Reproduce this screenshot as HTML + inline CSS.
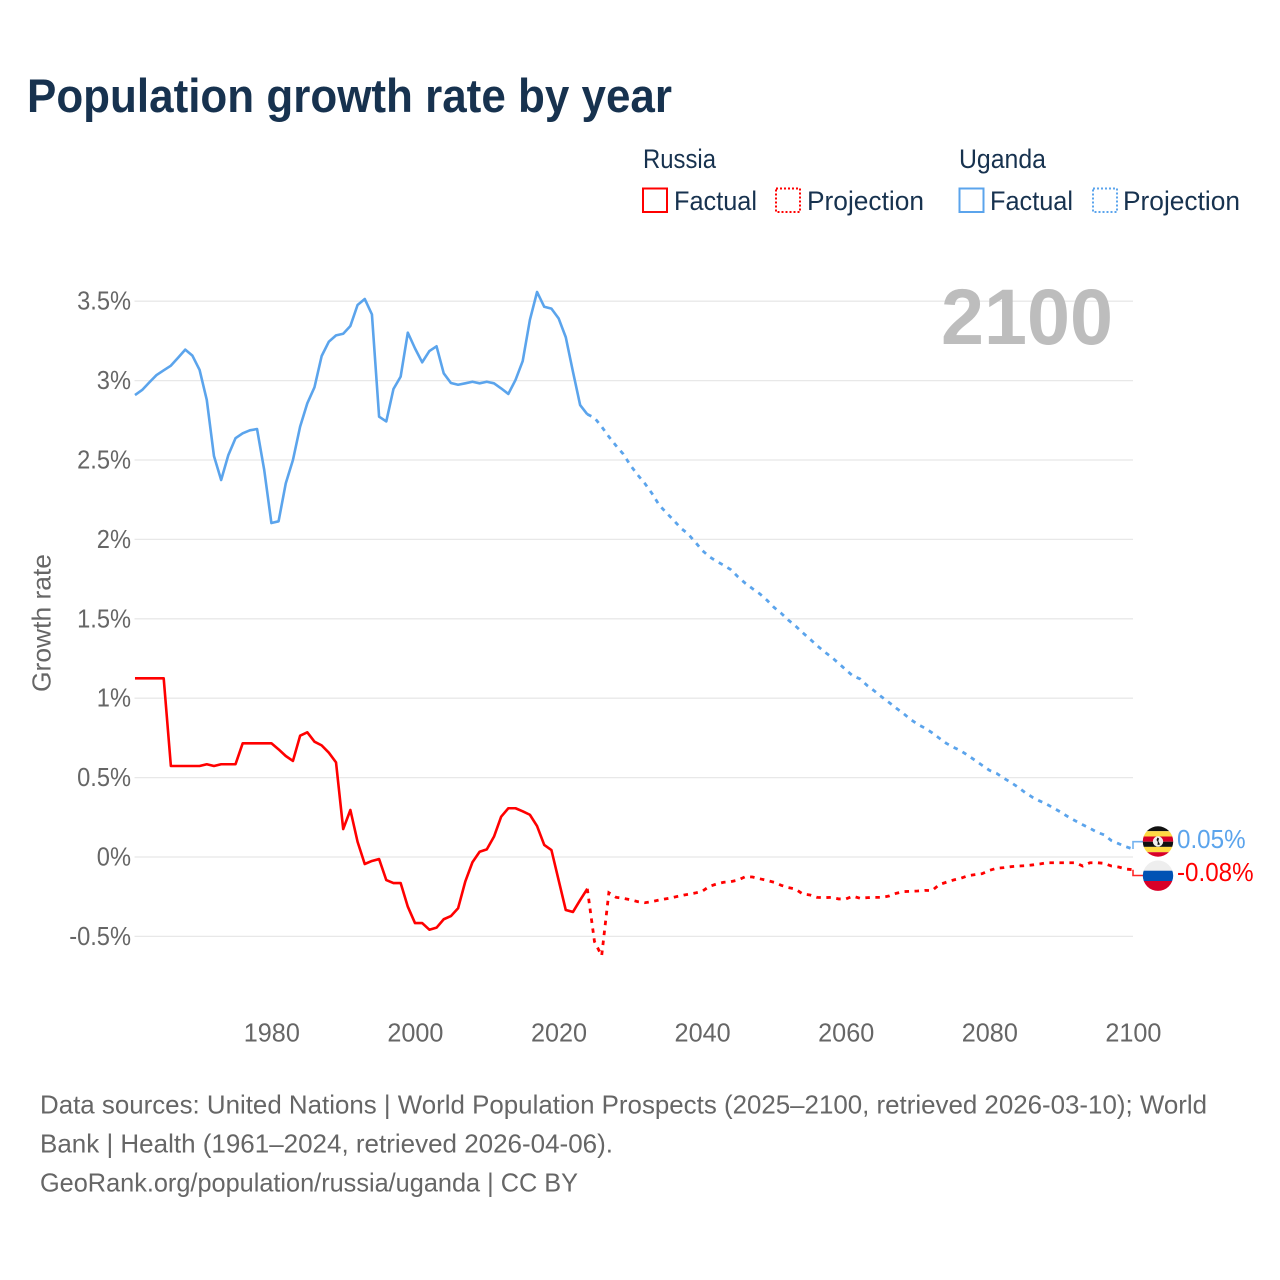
<!DOCTYPE html>
<html lang="en">
<head>
<meta charset="utf-8">
<title>Population growth rate by year</title>
<style>
html,body{margin:0;padding:0;background:#fff;}
svg{display:block;font-family:"Liberation Sans",sans-serif;}
</style>
</head>
<body>
<svg id="chart" width="1280" height="1280" viewBox="0 0 1280 1280" xmlns="http://www.w3.org/2000/svg">
  <rect x="0" y="0" width="1280" height="1280" fill="#fff"/>
  <text x="27" y="112" font-size="47" font-weight="700" fill="#17324f" textLength="645" lengthAdjust="spacingAndGlyphs">Population growth rate by year</text>

  <g fill="#17324f" font-size="26.5">
    <text x="643" y="168" textLength="73" lengthAdjust="spacingAndGlyphs">Russia</text>
    <text x="959" y="168" textLength="87" lengthAdjust="spacingAndGlyphs">Uganda</text>
    <rect x="643" y="188.5" width="24" height="23.5" fill="none" stroke="#ff0000" stroke-width="2"/>
    <text x="674" y="210" textLength="83" lengthAdjust="spacingAndGlyphs">Factual</text>
    <rect x="776" y="188.5" width="24" height="23.5" fill="none" stroke="#ff0000" stroke-width="2" stroke-dasharray="2 2"/>
    <text x="807" y="210" textLength="117" lengthAdjust="spacingAndGlyphs">Projection</text>
    <rect x="959.5" y="188.5" width="24" height="23.5" fill="none" stroke="#5ba4ec" stroke-width="2"/>
    <text x="990" y="210" textLength="83" lengthAdjust="spacingAndGlyphs">Factual</text>
    <rect x="1093" y="188.5" width="24" height="23.5" fill="none" stroke="#5ba4ec" stroke-width="2" stroke-dasharray="2 2"/>
    <text x="1123" y="210" textLength="117" lengthAdjust="spacingAndGlyphs">Projection</text>
  </g>

  <text transform="translate(50.5 692) rotate(-90)" x="0" y="0" font-size="26" fill="#666" textLength="138" lengthAdjust="spacingAndGlyphs">Growth rate</text>

  <g id="grid"></g>
  <g id="yticks"></g>
  <g id="xticks"></g>

  <text x="1113" y="344" text-anchor="end" font-size="79" font-weight="700" fill="#bdbdbd" textLength="172" lengthAdjust="spacingAndGlyphs">2100</text>

  <g id="series"></g>

  <g>
    <clipPath id="clip-ug"><circle cx="1158" cy="841.5" r="15.2"/></clipPath>
    <g clip-path="url(#clip-ug)">
      <rect x="1142" y="826" width="32" height="5.2" fill="#111"/>
      <rect x="1142" y="831.2" width="32" height="5.3" fill="#ffda44"/>
      <rect x="1142" y="836.5" width="32" height="5.2" fill="#d80027"/>
      <rect x="1142" y="841.7" width="32" height="5.2" fill="#111"/>
      <rect x="1142" y="846.9" width="32" height="5.3" fill="#ffda44"/>
      <rect x="1142" y="852.2" width="32" height="5.2" fill="#d80027"/>
    </g>
    <circle cx="1158" cy="841.5" r="5.2" fill="#f0f0f0"/>
    <path d="M1157.5 837.5 L1159 838.5 L1158.3 841 L1160 844.5 L1157.5 845 L1157.8 842 L1156.5 840 Z" fill="#111"/>
  </g>
  <g>
    <clipPath id="clip-ru"><circle cx="1158" cy="875.7" r="15.2"/></clipPath>
    <g clip-path="url(#clip-ru)">
      <rect x="1142" y="860" width="32" height="10.7" fill="#eeeeee"/>
      <rect x="1142" y="870.7" width="32" height="10.3" fill="#0052b4"/>
      <rect x="1142" y="881" width="32" height="10" fill="#d80027"/>
    </g>
  </g>

  <g font-size="26" fill="#666">
    <text x="40" y="1113.5" textLength="1167" lengthAdjust="spacingAndGlyphs">Data sources: United Nations | World Population Prospects (2025–2100, retrieved 2026-03-10); World</text>
    <text x="40" y="1152.5" textLength="573" lengthAdjust="spacingAndGlyphs">Bank | Health (1961–2024, retrieved 2026-04-06).</text>
    <text x="40" y="1191.5" textLength="538" lengthAdjust="spacingAndGlyphs">GeoRank.org/population/russia/uganda | CC BY</text>
  </g>
</svg>
<script>
const factualYears = [1961,1962,1963,1964,1965,1966,1967,1968,1969,1970,1971,1972,1973,1974,1975,1976,1977,1978,1979,1980,1981,1982,1983,1984,1985,1986,1987,1988,1989,1990,1991,1992,1993,1994,1995,1996,1997,1998,1999,2000,2001,2002,2003,2004,2005,2006,2007,2008,2009,2010,2011,2012,2013,2014,2015,2016,2017,2018,2019,2020,2021,2022,2023,2024];
const projectionYears = [2025,2026,2027,2028,2029,2030,2031,2032,2033,2034,2035,2036,2037,2038,2039,2040,2041,2042,2043,2044,2045,2046,2047,2048,2049,2050,2051,2052,2053,2054,2055,2056,2057,2058,2059,2060,2061,2062,2063,2064,2065,2066,2067,2068,2069,2070,2071,2072,2073,2074,2075,2076,2077,2078,2079,2080,2081,2082,2083,2084,2085,2086,2087,2088,2089,2090,2091,2092,2093,2094,2095,2096,2097,2098,2099,2100];
const russiaFactual = [1.125,1.125,1.125,1.125,1.125,0.573,0.573,0.573,0.573,0.573,0.584,0.573,0.584,0.584,0.584,0.716,0.716,0.716,0.716,0.716,0.678,0.636,0.605,0.764,0.785,0.726,0.703,0.657,0.596,0.176,0.296,0.096,-0.044,-0.025,-0.013,-0.145,-0.164,-0.164,-0.313,-0.416,-0.416,-0.458,-0.445,-0.392,-0.372,-0.323,-0.155,-0.033,0.033,0.048,0.128,0.254,0.307,0.307,0.288,0.266,0.195,0.076,0.044,-0.145,-0.334,-0.346,-0.271,-0.2];
const russiaProjection = [-0.533,-0.622,-0.225,-0.254,-0.26,-0.269,-0.281,-0.288,-0.281,-0.271,-0.263,-0.254,-0.244,-0.235,-0.227,-0.216,-0.185,-0.17,-0.159,-0.155,-0.145,-0.124,-0.126,-0.137,-0.147,-0.159,-0.178,-0.193,-0.202,-0.233,-0.239,-0.254,-0.256,-0.254,-0.264,-0.264,-0.247,-0.26,-0.256,-0.254,-0.254,-0.246,-0.229,-0.218,-0.216,-0.214,-0.21,-0.212,-0.174,-0.159,-0.145,-0.134,-0.118,-0.111,-0.105,-0.084,-0.071,-0.067,-0.061,-0.057,-0.055,-0.05,-0.044,-0.036,-0.036,-0.036,-0.036,-0.036,-0.057,-0.036,-0.036,-0.04,-0.057,-0.063,-0.076,-0.08];
const ugandaFactual = [2.909,2.941,2.989,3.035,3.065,3.094,3.144,3.195,3.157,3.067,2.878,2.525,2.374,2.531,2.637,2.668,2.687,2.695,2.437,2.103,2.114,2.353,2.5,2.71,2.857,2.958,3.155,3.245,3.285,3.295,3.344,3.476,3.514,3.417,2.773,2.743,2.947,3.025,3.302,3.203,3.115,3.186,3.216,3.046,2.985,2.974,2.983,2.993,2.983,2.993,2.983,2.951,2.916,3.004,3.123,3.382,3.558,3.465,3.453,3.392,3.273,3.056,2.846,2.788];
const ugandaProjection = [2.766,2.71,2.647,2.59,2.538,2.467,2.407,2.353,2.29,2.217,2.168,2.122,2.072,2.036,1.985,1.931,1.891,1.862,1.837,1.809,1.763,1.724,1.69,1.658,1.618,1.572,1.535,1.492,1.455,1.412,1.373,1.331,1.293,1.259,1.22,1.179,1.14,1.121,1.079,1.045,1.008,0.974,0.938,0.905,0.867,0.836,0.812,0.783,0.749,0.716,0.691,0.669,0.64,0.609,0.577,0.546,0.527,0.496,0.47,0.439,0.405,0.376,0.353,0.332,0.307,0.281,0.252,0.227,0.203,0.181,0.156,0.139,0.103,0.084,0.065,0.05];
const yTickValues = [-0.5,0,0.5,1,1.5,2,2.5,3,3.5];
const yTickLabels = ['-0.5%','0%','0.5%','1%','1.5%','2%','2.5%','3%','3.5%'];
const xTickValues = [1980,2000,2020,2040,2060,2080,2100];
const xTickLabels = ['1980','2000','2020','2040','2060','2080','2100'];
const endLabelRussia = '-0.08%';
const endLabelUganda = '0.05%';

const NS = 'http://www.w3.org/2000/svg';
const RED = '#ff0000';
const BLUE = '#5ba4ec';
function xScale(year){ return 271.4 + (year - 1980) * 7.18; }
function yScale(v){ return 857 - v * 158.8; }
function make(tag, parent, attrs){
  const el = document.createElementNS(NS, tag);
  for (const k in attrs) el.setAttribute(k, attrs[k]);
  parent.appendChild(el);
  return el;
}
function squeeze(el, ratio){
  const w = el.getComputedTextLength();
  el.setAttribute('textLength', (w * ratio).toFixed(1));
  el.setAttribute('lengthAdjust', 'spacingAndGlyphs');
}
function linePath(years, values){
  return years.map(function(yr, i){
    return (i ? 'L' : 'M') + xScale(yr).toFixed(2) + ' ' + yScale(values[i]).toFixed(2);
  }).join(' ');
}

const grid = document.getElementById('grid');
const yticks = document.getElementById('yticks');
const xticks = document.getElementById('xticks');
const series = document.getElementById('series');

yTickValues.forEach(function(v, i){
  const ln = make('line', grid, {x1: 134.5, x2: xScale(2100), y1: yScale(v), y2: yScale(v), stroke: '#e8e8e8', 'stroke-width': 1.3});
  
  
  const t = make('text', yticks, {x: 131, y: yScale(v) + 8.5, 'text-anchor': 'end', 'font-size': 26, fill: '#666'});
  t.textContent = yTickLabels[i];
  
  
  squeeze(t, 0.91);
});

xTickValues.forEach(function(v, i){
  const t = make('text', xticks, {x: xScale(v) + 0.4, y: 1041.5, 'text-anchor': 'middle', 'font-size': 26, fill: '#666'});
  t.textContent = xTickLabels[i];
  
  
  squeeze(t, 0.97);
});

function drawSeries(key, color, factual, projection, labelY, labelText, labelBase, labelRatio){
  const f = make('path', series, {d: linePath(factualYears, factual), fill: 'none', stroke: color, 'stroke-width': 2.6, 'stroke-linejoin': 'round'});
  
  
  const pYears = [factualYears[factualYears.length - 1]].concat(projectionYears);
  const pVals = [factual[factual.length - 1]].concat(projection);
  const p = make('path', series, {d: linePath(pYears, pVals), fill: 'none', stroke: color, 'stroke-width': 2.8, 'stroke-dasharray': '4.5 5.5'});
  
  
  const lastYear = projectionYears[projectionYears.length - 1];
  const lastVal = projection[projection.length - 1];
  const c = make('path', series, {d: 'M' + xScale(lastYear) + ' ' + yScale(lastVal) + ' V' + labelY + ' H1143', fill: 'none', stroke: color, 'stroke-width': 1.6, opacity: 0.85});
  
  
  const t = make('text', series, {x: 1177, y: labelBase, 'font-size': 26, fill: color});
  t.textContent = labelText;
  
  
  squeeze(t, labelRatio);
}
drawSeries('uganda', BLUE, ugandaFactual, ugandaProjection, 841.7, endLabelUganda, 848, 0.93);
drawSeries('russia', RED, russiaFactual, russiaProjection, 875.5, endLabelRussia, 881, 0.93);
</script>
</body>
</html>
